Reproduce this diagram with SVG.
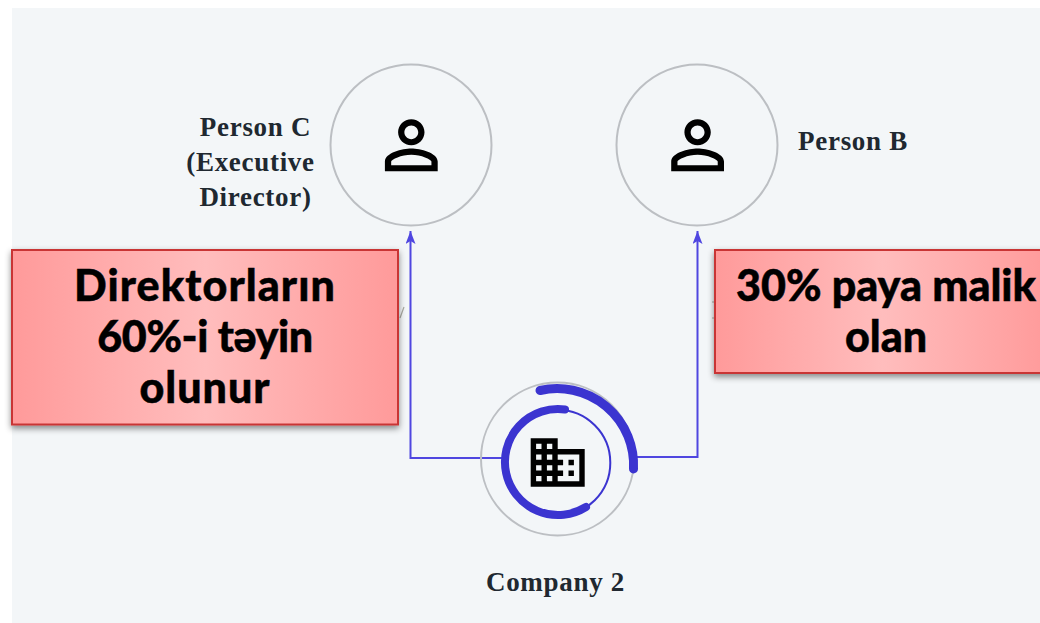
<svg xmlns="http://www.w3.org/2000/svg" width="1040" height="623" viewBox="0 0 1040 623">
<style>
.ring{fill:none;stroke:#bcbfc3;stroke-width:2}
.wire{fill:none;stroke:#4f46e0;stroke-width:2}
.arc{fill:none;stroke:#3b34d0;stroke-linecap:round}
.lbl{font-family:"Liberation Serif",serif;font-weight:700;font-size:27px;letter-spacing:.7px;fill:#202830;text-anchor:middle}
.call{font-family:Lato,"Liberation Sans",sans-serif;font-weight:900;font-size:43px;fill:#000;stroke:#000;stroke-width:.5;text-anchor:middle}
.box{fill:url(#g);stroke:#c93636;stroke-width:2;filter:url(#s)}
.ico{fill:#000}
</style>
<defs>
<linearGradient id="g" x1="0" y1="0" x2="1" y2="0"><stop offset="0" stop-color="#ff9a9a"/><stop offset=".5" stop-color="#ffbdbd"/><stop offset="1" stop-color="#ff9a9a"/></linearGradient>
<filter id="s" x="-5%" y="-5%" width="110%" height="115%"><feDropShadow dx="0" dy="3" stdDeviation="3" flood-color="#000" flood-opacity=".45"/></filter>
<marker id="a" markerUnits="userSpaceOnUse" markerWidth="15" markerHeight="12" refX="13" refY="5" orient="auto"><path d="M0 0L13 5L0 10L3 5Z" fill="#4f46e0"/></marker>
<path id="p" d="M12 5.9c1.16 0 2.1.94 2.1 2.1s-.94 2.1-2.1 2.1S9.9 9.16 9.9 8s.94-2.1 2.1-2.1m0 9c2.97 0 6.1 1.46 6.1 2.1v1.1H5.9V17c0-.64 3.13-2.1 6.1-2.1M12 4C9.79 4 8 5.79 8 8s1.79 4 4 4 4-1.79 4-4-1.79-4-4-4zm0 9c-2.67 0-8 1.34-8 4v3h16v-3c0-2.66-5.33-4-8-4z"/>
</defs>
<rect width="1040" height="623" fill="#fff"/>
<rect x="12" y="8" width="1028" height="615" fill="#f3f6f8"/>
<g id="connectors">
<path class="wire" marker-end="url(#a)" d="M502 458H410.500V231"/>
<path class="wire" marker-end="url(#a)" d="M636 457H697.500V231"/>
<path d="M404 307L400 318M712 302h3M712 318h3" fill="none" stroke="#a9a9a0" stroke-width="1.200"/>
</g>
<g id="person-c">
<circle class="ring" cx="411" cy="145" r="80.500"/>
<use href="#p" class="ico" transform="translate(371.700 106.300) scale(3.300 3.250)"/>
<text class="lbl" x="255.500" y="135.500">Person C</text>
<text class="lbl" x="250.500" y="170.500">(Executive</text>
<text class="lbl" x="255.500" y="206">Director)</text>
</g>
<g id="person-b">
<circle class="ring" cx="697" cy="145" r="80.500"/>
<use href="#p" class="ico" transform="translate(658 106.300) scale(3.300 3.250)"/>
<text class="lbl" x="853" y="149.500">Person B</text>
</g>
<g id="company-2">
<circle class="ring" cx="557.500" cy="459" r="76.500"/>
<circle cx="557.300" cy="462.700" r="53" fill="none" stroke="#3b34d0" stroke-width="2"/>
<path class="arc" stroke-width="8" d="M565 409.500A53 53 0 1 0 586 507"/>
<path class="arc" stroke-width="9" d="M540 390.500A76.500 76.500 0 0 1 633.500 469"/>
<path class="ico" fill-rule="evenodd" transform="translate(525.300 430.200) scale(2.700 2.690)" d="M12 7V3H2v18h20V7H12zM6 19H4v-2h2v2zm0-4H4v-2h2v2zm0-4H4V9h2v2zm0-4H4V5h2v2zm4 12H8v-2h2v2zm0-4H8v-2h2v2zm0-4H8V9h2v2zm0-4H8V5h2v2zm10 12h-8v-2h2v-2h-2v-2h2v-2h-2V9h8v10zm-2-8h-2v2h2v-2zm0 4h-2v2h2v-2z"/>
<text class="lbl" x="555.500" y="590.500">Company 2</text>
</g>
<g id="callout-left">
<rect class="box" x="12" y="250" width="386" height="174.500"/>
<text class="call" x="205" y="301" style="letter-spacing:1.100px">Direktorların</text>
<text class="call" x="205" y="352" style="letter-spacing:-.4px">60%-i təyin</text>
<text class="call" x="205" y="402.500" style="letter-spacing:1px">olunur</text>
</g>
<g id="callout-right">
<rect class="box" x="715" y="250" width="335" height="123"/>
<text class="call" x="886" y="301">30% paya malik</text>
<text class="call" x="886" y="351.500">olan</text>
</g>
</svg>
